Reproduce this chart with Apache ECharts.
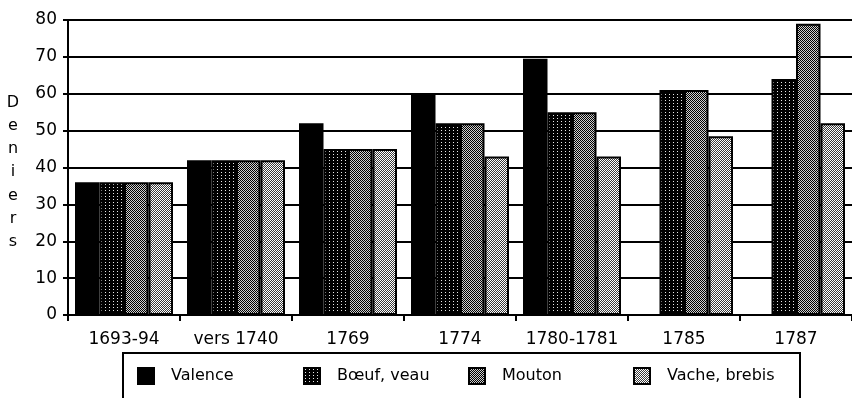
<!DOCTYPE html>
<html>
<head>
<meta charset="utf-8">
<script src="https://cdn.jsdelivr.net/npm/echarts@6/dist/echarts.min.js"></script>
<style>
  html, body { margin: 0; padding: 0; background: #fff; }
  #chart { width: 852px; height: 398px; }
</style>
</head>
<body>
<div id="chart"></div>
<script>
// Prix de la viande (deniers la livre)
const periods = ['1693-94', 'vers 1740', '1769', '1774', '1780-1781', '1785', '1787'];
const valence = [36, 42, 52, 60, 69.5, null, null];
const boeufVeau = [36, 42, 45, 52, 55, 61, 64];
const mouton = [36, 42, 45, 52, 55, 61, 79];
const vacheBrebis = [36, 42, 45, 43, 43, 48.5, 52];
const seriesNames = ['Valence', 'Bœuf, veau', 'Mouton', 'Vache, brebis'];
const yTicks = { min: 0, max: 80, step: 10 };
const axisTitle = 'Deniers';

const FONT = '"DejaVu Sans", Verdana, sans-serif';

// Small bitmap tiles used as screen-style fills
function tile(w, h, paint) {
  const c = document.createElement('canvas');
  c.width = w; c.height = h;
  const g = c.getContext('2d');
  paint(g);
  return { image: c, repeat: 'repeat' };
}
const fillBoeuf = tile(4, 3, g => {
  g.fillStyle = '#000'; g.fillRect(0, 0, 4, 3);
  g.fillStyle = '#e8e8e8'; g.fillRect(1, 1, 1, 1);
});
const fillMouton = tile(2, 2, g => {
  g.fillStyle = '#000'; g.fillRect(0, 0, 2, 2);
  g.fillStyle = '#cfcfcf'; g.fillRect(1, 0, 1, 1); g.fillRect(0, 1, 1, 1);
});
const fillVache = tile(2, 2, g => {
  g.fillStyle = '#fff'; g.fillRect(0, 0, 2, 2);
  g.fillStyle = '#3a3a3a'; g.fillRect(1, 0, 1, 1); g.fillRect(0, 1, 1, 1);
});

function barSeries(name, data, fill) {
  return {
    name, type: 'bar', data,
    barGap: '0%', barCategoryGap: '12.5%',
    itemStyle: { color: fill, borderColor: '#000', borderWidth: 2 },
    emphasis: { disabled: true },
    animation: false
  };
}

// One legend block per series, laid out on a fixed pitch inside a framed box
const legendLeft = [137, 303, 468, 633];
const legends = seriesNames.map((name, i) => ({
  left: legendLeft[i], top: 367,
  orient: 'horizontal',
  itemWidth: 16, itemHeight: 16,
  icon: 'rect',
  padding: 0,
  selectedMode: false,
  textStyle: { color: '#000', fontSize: 16, fontFamily: FONT, padding: [0, 0, 0, 12] },
  data: [name]
}));

const chart = echarts.init(document.getElementById('chart'), null, { renderer: 'canvas' });
chart.setOption({
  backgroundColor: '#fff',
  animation: false,
  grid: { left: 68, top: 20, width: 786, height: 295, containLabel: false },
  xAxis: {
    type: 'category',
    data: periods,
    boundaryGap: true,
    axisLine: { lineStyle: { color: '#000', width: 2 } },
    axisTick: { show: true, length: 6, lineStyle: { color: '#000', width: 2 } },
    axisLabel: { color: '#000', fontSize: 17, fontFamily: FONT, margin: 16, interval: 0 },
    splitLine: { show: false }
  },
  yAxis: {
    type: 'value',
    min: yTicks.min, max: yTicks.max, interval: yTicks.step,
    axisLine: { show: true, lineStyle: { color: '#000', width: 2 } },
    axisTick: { show: true, length: 5, lineStyle: { color: '#000', width: 2 } },
    axisLabel: { color: '#000', fontSize: 17, fontFamily: FONT, margin: 11 },
    splitLine: { show: true, lineStyle: { color: '#000', width: 2 } }
  },
  legend: legends,
  graphic: [{
    type: 'text',
    x: 13, y: 91,
    silent: true,
    style: {
      text: axisTitle.split('').join('\n'),
      fontSize: 16, fontFamily: FONT, lineHeight: 23.2,
      fill: '#000', align: 'center', verticalAlign: 'top'
    }
  }, {
    type: 'rect',
    silent: true,
    shape: { x: 123, y: 353, width: 677, height: 70 },
    style: { fill: 'none', stroke: '#000', lineWidth: 2 }
  }],
  series: [
    barSeries(seriesNames[0], valence, '#000'),
    barSeries(seriesNames[1], boeufVeau, fillBoeuf),
    barSeries(seriesNames[2], mouton, fillMouton),
    barSeries(seriesNames[3], vacheBrebis, fillVache)
  ]
});
</script>
</body>
</html>
